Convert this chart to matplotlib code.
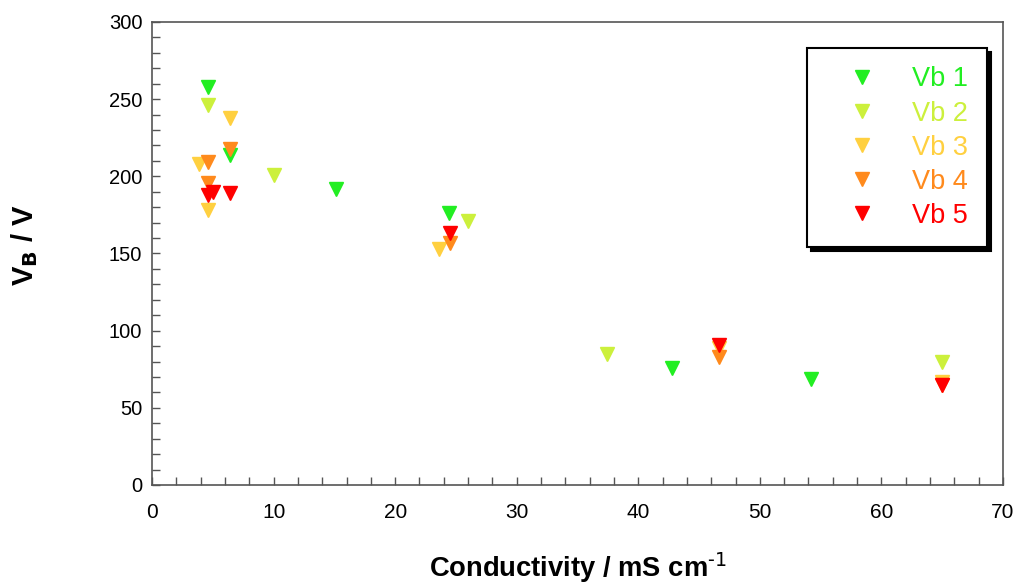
import matplotlib
matplotlib.use("Agg")
import matplotlib.pyplot as plt
from matplotlib import font_manager
from matplotlib.ticker import MultipleLocator

# ---- data ----
vb1_x = [4.6, 6.4, 15.1, 24.4, 42.8, 54.2]
vb1_y = [258, 214, 192, 176, 76, 69]
vb2_x = [4.6, 10.0, 26.0, 37.4, 65.0]
vb2_y = [246, 201, 171, 85, 80]
vb3_x = [6.4, 3.9, 4.6, 23.6, 46.6, 65.0]
vb3_y = [238, 208, 178, 153, 89, 67]
vb4_x = [6.4, 4.6, 4.6, 24.5, 46.6, 65.0]
vb4_y = [218, 209, 196, 157, 83, 65]
vb5_x = [4.6, 5.0, 6.4, 24.5, 46.6, 65.0]
vb5_y = [188, 190, 189, 163, 91, 65]

series_labels = ["Vb 1", "Vb 2", "Vb 3", "Vb 4", "Vb 5"]
series_colors = ["#22EE22", "#CCF03C", "#FFD040", "#FF8A1C", "#FF0000"]
series_x = [vb1_x, vb2_x, vb3_x, vb4_x, vb5_x]
series_y = [vb1_y, vb2_y, vb3_y, vb4_y, vb5_y]

names = {f.name for f in font_manager.fontManager.ttflist}
base = "Liberation Sans" if "Liberation Sans" in names else "DejaVu Sans"

plt.rcParams['font.family'] = [base, 'DejaVu Sans']
plt.rcParams['mathtext.default'] = 'regular'

W, H = 1024, 583
fig = plt.figure(figsize=(W/100, H/100), dpi=100)
ax = fig.add_axes([152/W, 1-485/H, (1003-152)/W, (485-22)/H])

for xs, ys, c, lab in zip(series_x, series_y, series_colors, series_labels):
    ax.plot(xs, ys, linestyle='none', marker='v', markersize=10.5,
            color=c, markeredgecolor=c, label=lab)

ax.set_xlim(0, 70)
ax.set_ylim(0, 300)
ax.xaxis.set_major_locator(MultipleLocator(10))
ax.xaxis.set_minor_locator(MultipleLocator(2))
ax.yaxis.set_major_locator(MultipleLocator(50))
ax.yaxis.set_minor_locator(MultipleLocator(10))
spc = '#555555'
for s in ax.spines.values():
    s.set_color(spc)
    s.set_linewidth(1.2)
ax.tick_params(which='both', direction='in', length=6, width=1, color=spc,
               top=False, right=False)
ax.tick_params(axis='y', labelsize=14.5, pad=7)
ax.tick_params(axis='x', labelsize=15, pad=13)

# axis titles
fig.text(577.5/W, 1-577/H, "Conductivity / mS cm$^{\\text{-1}}$", fontsize=19.7,
         fontweight='bold', ha='center', va='baseline')
fig.text(25/W, 1-245/H, "V$_\\mathbf{B}$ / V", fontsize=21, fontweight='bold',
         rotation=90, ha='center', va='center')

leg = ax.legend(loc='upper right', bbox_to_anchor=(0.981, (485-48)/463),
                fontsize=19.5, frameon=True, fancybox=False,
                handlelength=2.77, handletextpad=0.46, borderpad=0.68,
                labelspacing=0.30, borderaxespad=0,
                labelcolor='markerfacecolor',
                shadow={'ox': 3, 'oy': -3, 'facecolor': 'black',
                        'edgecolor': 'black', 'alpha': 1})
leg.get_frame().set_edgecolor('black')
leg.get_frame().set_linewidth(1.5)

fig.savefig("out.png", dpi=100)
